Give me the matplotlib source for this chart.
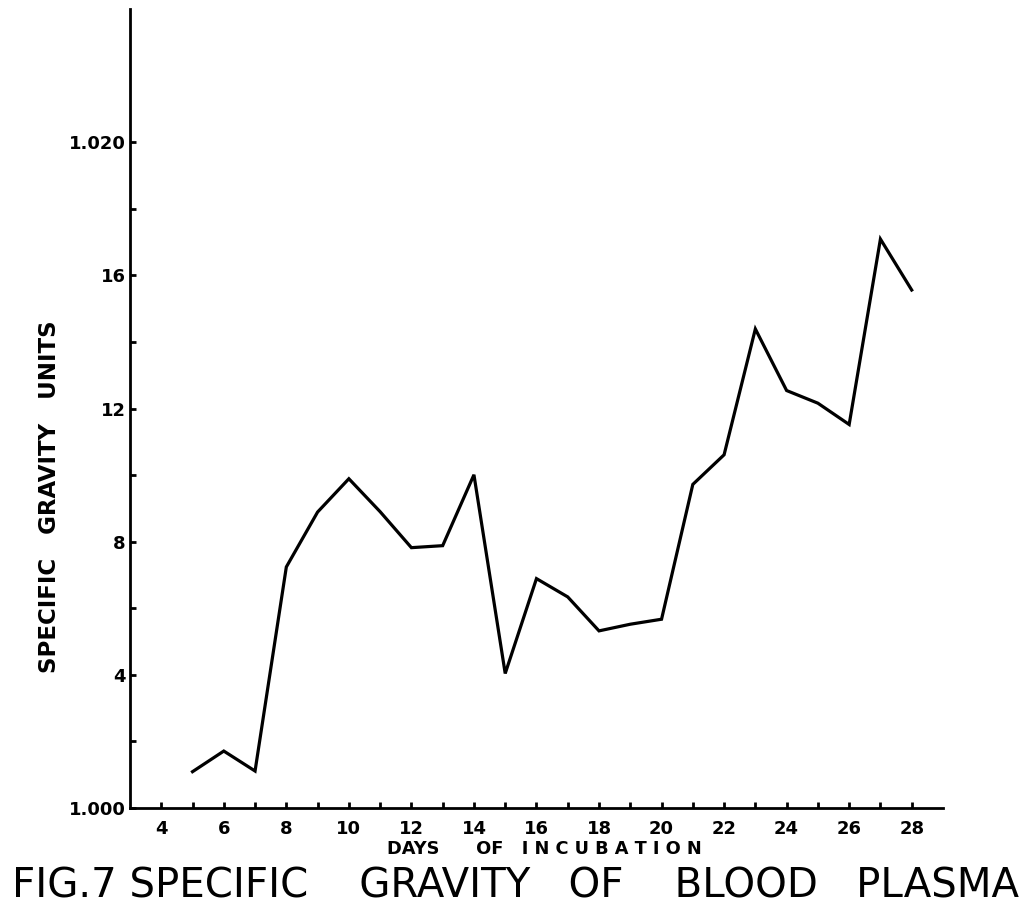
import matplotlib
matplotlib.use("Agg")
import matplotlib.pyplot as plt

# specific gravity of blood plasma, units above 1.000, by day of incubation
days = [5, 6, 7, 8, 9, 10, 11, 12, 13, 14, 15, 16, 17, 18, 19, 20,
        21, 22, 23, 24, 25, 26, 27, 28]
units = [1.09, 1.71, 1.11, 7.24, 8.89, 9.89, 8.9, 7.82, 7.88, 10.01, 4.04, 6.89,
         6.34, 5.32, 5.52, 5.67, 9.72, 10.61, 14.39, 12.54, 12.16, 11.52, 17.09, 15.56]

x_ticks = list(range(4, 29))
x_labels = [str(d) if d % 2 == 0 else "" for d in x_ticks]
y_ticks = list(range(0, 21, 2))
y_names = {0: "1.000", 4: "4", 8: "8", 12: "12", 16: "16", 20: "1.020"}
y_labels = [y_names.get(v, "") for v in y_ticks]

fig = plt.figure(figsize=(10.3, 9.06), dpi=100)
ax = fig.add_axes([0.1262, 0.1082, 0.7893, 0.8818])

ax.plot(days, units, color="black", lw=2.3, solid_joinstyle="miter")

ax.set_xlim(3, 29)
ax.set_ylim(0, 24)
for s in ["top", "right"]:
    ax.spines[s].set_visible(False)
for s in ["left", "bottom"]:
    ax.spines[s].set_linewidth(2.0)

ax.set_xticks(x_ticks)
ax.set_xticklabels(x_labels, fontsize=13, fontweight="bold")
ax.set_yticks(y_ticks)
ax.set_yticklabels(y_labels, fontsize=13, fontweight="bold")
ax.tick_params(axis="x", direction="in", length=4, width=2, pad=9)
ax.tick_params(axis="y", direction="in", length=4, width=2, pad=3)

# axis titles placed directly in figure coordinates
fig.text(544 / 1030, 52 / 906, "DAYS      OF   I N C U B A T I O N",
         ha="center", va="baseline", fontsize=12.8, fontweight="bold")
fig.text(50 / 1030, 1 - 497 / 906, "SPECIFIC   GRAVITY   UNITS",
         ha="center", va="center", rotation=90, fontsize=16.5, fontweight="bold")

fig.text(515 / 1030, 9 / 906, "FIG.7 SPECIFIC    GRAVITY   OF    BLOOD   PLASMA",
         ha="center", va="baseline", fontsize=29)

plt.savefig("out.png", dpi=100)
